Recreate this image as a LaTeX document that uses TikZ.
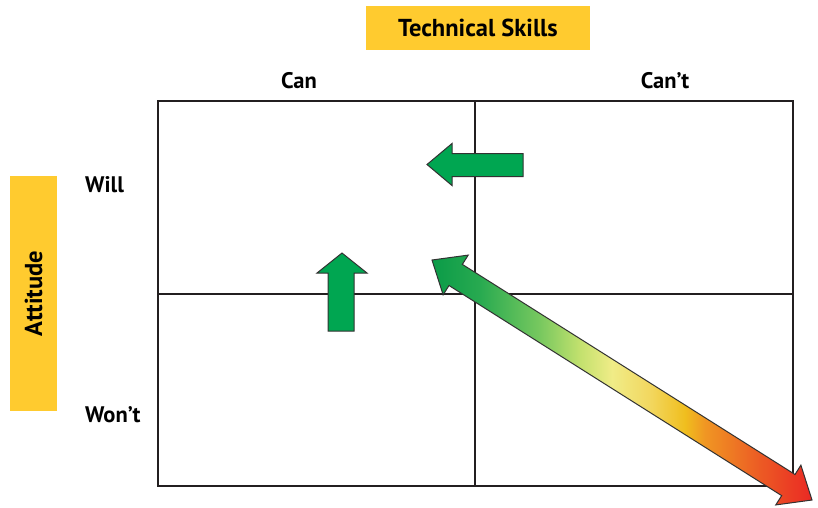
\documentclass[tikz,border=0pt]{standalone}
\usepackage{fontspec}
\setmainfont{PT Sans}
\usetikzlibrary{calc}

\definecolor{labelyellow}{RGB}{255,203,47}
\definecolor{arrowgreen}{RGB}{0,166,81}
\definecolor{edgegray}{RGB}{50,50,50}
\definecolor{gridblack}{RGB}{35,31,32}

% colour stops of the long two-headed arrow, left to right
\definecolor{s0}{RGB}{10,155,72}
\definecolor{s1}{RGB}{40,170,80}
\definecolor{s2}{RGB}{120,200,95}
\definecolor{s3}{RGB}{195,225,110}
\definecolor{s4}{RGB}{240,236,135}
\definecolor{s5}{RGB}{242,215,95}
\definecolor{s6}{RGB}{240,190,30}
\definecolor{s7}{RGB}{240,150,35}
\definecolor{s8}{RGB}{236,90,36}
\definecolor{s9}{RGB}{234,40,36}
\pgfdeclarehorizontalshading{greentored}{100bp}{%
  color(0bp)=(s0); color(25bp)=(s0); color(31.3bp)=(s1); color(39.2bp)=(s2);
  color(44.5bp)=(s3); color(48.7bp)=(s4); color(53.7bp)=(s5); color(58.3bp)=(s6);
  color(60.9bp)=(s7); color(68.2bp)=(s8); color(75bp)=(s9); color(100bp)=(s9)}

\tikzset{
  gridline/.style={draw=gridblack, line width=2pt},
  headbox/.style={fill=labelyellow, inner sep=0pt, font=\fontsize{24.5}{27}\selectfont\bfseries},
  axislabel/.style={inner sep=0pt, font=\fontsize{22.5}{25}\selectfont\bfseries},
  greenarrow/.style={fill=arrowgreen, draw=edgegray, line width=1pt, line join=miter},
  gradarrow/.style={shading=greentored, shading angle=0, draw=edgegray, line width=1pt, line join=miter}
}

\begin{document}
\begin{tikzpicture}[x=1pt, y=-1pt]
\useasboundingbox (0,0) rectangle (818,507);

% the two-by-two grid
\coordinate (gtl) at (158,101);
\coordinate (gbr) at (793,486);
\draw[gridline] (gtl) rectangle (gbr);
\draw[gridline] (475,101) -- (475,486);
\draw[gridline] (158,294) -- (793,294);

% headings
\node[headbox, minimum width=224, minimum height=44] (skills) at (478,28) {Technical Skills};
\node[headbox, minimum width=47, minimum height=235] (attbox) at (33.5,293.5) {};
\node[headbox, fill=none, rotate=90] (attitude) at (attbox.center) {Attitude};

\node[axislabel] (can) at (299,81) {Can};
\node[axislabel] (cant) at (665,81) {Can’t};
\node[axislabel, anchor=west] (will) at (85,185) {Will};
\node[axislabel, anchor=west] (wont) at (85,415) {Won’t};

% arrow pointing left
\draw[greenarrow] (427,164.5) -- (452,143.5) -- (452,153.5) -- (523,153.5)
  -- (523,176.5) -- (452,176.5) -- (452,185.5) -- cycle;

% arrow pointing up
\draw[greenarrow] (342,253) -- (367,273) -- (354,273) -- (354,331)
  -- (328,331) -- (328,273) -- (317,273) -- cycle;

% long two-headed arrow, green to red
\coordinate (tipa) at (432,260);
\coordinate (tipb) at (812,500);
\coordinate (necka) at ($(tipa)!28pt!(tipb)$);
\coordinate (neckb) at ($(tipb)!28pt!(tipa)$);
\path[gradarrow] (tipa)
  -- ($(necka)!23.5pt!90:(tipb)$) -- ($(necka)!12.5pt!90:(tipb)$)
  -- ($(neckb)!12.5pt!-90:(tipa)$) -- ($(neckb)!23.5pt!-90:(tipa)$)
  -- (tipb)
  -- ($(neckb)!23.5pt!90:(tipa)$) -- ($(neckb)!12.5pt!90:(tipa)$)
  -- ($(necka)!12.5pt!-90:(tipb)$) -- ($(necka)!23.5pt!-90:(tipb)$)
  -- cycle;
\end{tikzpicture}
\end{document}
